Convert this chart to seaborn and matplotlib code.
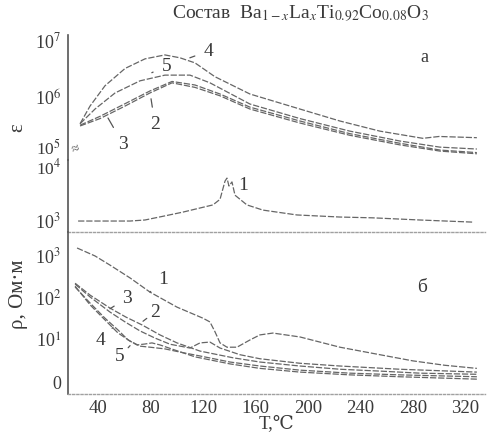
import numpy as np
import pandas as pd
import matplotlib
matplotlib.use("Agg")
import matplotlib.pyplot as plt
import seaborn as sns

sns.set_style("white")
plt.rcParams["font.family"] = ["Liberation Serif", "DejaVu Serif", "DejaVu Sans"]
plt.rcParams["mathtext.fontset"] = "stix"

# ---------------- data ----------------
# panel a: permittivity epsilon vs T
T_eps4 = [26.3, 33.9, 45.3, 60.6, 75.8, 91.0, 102.5, 113.9, 129.1, 155.8, 193.9, 224.4, 254.9, 287.6, 300.0, 328.8]
eps4 = [3.5e5, 7.1e5, 1.6e6, 3.2e6, 4.7e6, 5.5e6, 4.9e6, 4.0e6, 2.3e6, 1.15e6, 6.3e5, 3.9e5, 2.6e5, 1.95e5, 2.1e5, 2.0e5]

T_eps5 = [26.3, 37.7, 53.0, 72.0, 91.0, 110.1, 125.3, 155.8, 193.9, 232.0, 270.1, 300.6, 328.8]
eps5 = [3.5e5, 6.3e5, 1.2e6, 1.95e6, 2.45e6, 2.45e6, 1.8e6, 7.7e5, 4.3e5, 2.6e5, 1.75e5, 1.37e5, 1.27e5]

T_eps23 = [26.3, 41.5, 60.6, 79.6, 96.4, 113.9, 133.0, 155.8, 193.9, 232.0, 270.1, 300.6, 328.8]
eps3 = [3.2e5, 4.3e5, 7.1e5, 1.2e6, 1.8e6, 1.5e6, 1.07e6, 6.3e5, 3.6e5, 2.2e5, 1.5e5, 1.17e5, 1.05e5]
eps2 = [3.3e5, 4.7e5, 7.8e5, 1.3e6, 1.9e6, 1.65e6, 1.15e6, 6.8e5, 3.9e5, 2.35e5, 1.6e5, 1.22e5, 1.1e5]

# panel a (lower part): sample 1
T_eps1 = [24.8, 41.5, 64.4, 75.8, 91.0, 104.8, 117.7, 127.6, 133.0, 136.8, 138.3, 139.8, 142.1, 144.4,
          153.5, 165.7, 191.6, 224.4, 249.5, 285.3, 325.7]
eps1 = [955, 955, 955, 1000, 1200, 1420, 1700, 1950, 2500, 5600, 6400, 4500, 5400, 3000,
        1950, 1550, 1250, 1140, 1100, 1000, 910]

# panel b: resistivity rho vs T
T_r1 = [24.0, 37.7, 49.1, 64.4, 79.6, 100.2, 120.0, 125.3, 129.1, 133.0, 138.3, 145.9, 155.8, 163.4,
        173.3, 193.9, 224.4, 254.9, 280.0, 304.4, 328.8]
rho1 = [1460, 950, 580, 290, 135, 60, 33, 27, 16, 8.7, 6.9, 6.9, 10.2, 13.4,
        14.8, 12, 6.9, 4.6, 3.3, 2.6, 2.2]

T_r2 = [22.5, 33.9, 49.1, 60.6, 72.0, 83.4, 94.9, 110.1, 117.7, 125.3, 133.0, 148.2, 163.4, 193.9, 224.4, 270.1, 328.8]
rho2 = [208, 104, 46, 27, 16.6, 11.3, 8.1, 6.6, 8.7, 9.1, 6.6, 4.6, 3.7, 2.9, 2.5, 2.1, 1.8]

T_r3 = [22.5, 33.9, 49.1, 61.3, 73.5, 87.2, 100.2, 117.7, 142.9, 163.4, 193.9, 224.4, 254.9, 285.3, 328.8]
rho3 = [218, 115, 57, 35, 23, 13.4, 8.7, 5.6, 3.9, 3.1, 2.5, 2.1, 1.9, 1.7, 1.6]

T_r4 = [22.5, 33.9, 45.3, 55.2, 64.4, 72.0, 79.6, 91.0, 102.5, 117.7, 140.6, 163.4, 193.9, 232.0, 270.1, 328.8]
rho4 = [186, 68, 30, 14.9, 9.6, 7.3, 6.9, 6.3, 5.3, 4.3, 3.1, 2.5, 2.0, 1.7, 1.55, 1.4]

T_r5 = [22.5, 33.9, 45.3, 55.2, 62.9, 69.7, 75.8, 81.1, 87.2, 98.7, 113.9, 140.6, 163.4, 193.9, 232.0, 270.1, 328.8]
rho5 = [178, 75, 33, 17.5, 10.2, 7.8, 8.2, 8.7, 7.8, 5.9, 4.1, 2.8, 2.2, 1.8, 1.55, 1.4, 1.23]

x_ticks = [40, 80, 120, 160, 200, 240, 280, 320]
eps_ticks = [1e5, 1e6, 1e7]
eps_tick_labels = [r"10$^5$", r"10$^6$", r"10$^7$"]
eps1_ticks = [1e3, 1e4]
eps1_tick_labels = [r"10$^3$", r"10$^4$"]
rho_ticks = [1, 10, 100, 1000]
rho_tick_labels = ["0", r"10$^1$", r"10$^2$", r"10$^3$"]

# ---------------- figure ----------------
W, H = 490, 438
fig = plt.figure(figsize=(W / 100, H / 100), dpi=100)
fig.patch.set_facecolor("white")

XL, XR = 68, 485


def box(ytop, ybot):
    return [XL / W, 1 - ybot / H, (XR - XL) / W, (ybot - ytop) / H]


ax_top = fig.add_axes(box(35, 160))
ax_mid = fig.add_axes(box(160, 232))
ax_bot = fig.add_axes(box(232, 394))

line_col = "#666666"
ls = (0, (5, 1.5))
lw = 0.9
txt_col = "#3a3a3a"


def draw(ax, T, v, **kw):
    df = pd.DataFrame({"T": T, "v": v})
    sns.lineplot(data=df, x="T", y="v", ax=ax, sort=False, estimator=None,
                 color=kw.pop("color", line_col), linewidth=kw.pop("lw", lw),
                 linestyle=kw.pop("ls", ls), **kw)


for T, v in [(T_eps4, eps4), (T_eps5, eps5), (T_eps23, eps3), (T_eps23, eps2)]:
    draw(ax_top, T, v)
draw(ax_mid, T_eps1, eps1)
for T, v in [(T_r1, rho1), (T_r2, rho2), (T_r3, rho3), (T_r4, rho4), (T_r5, rho5)]:
    draw(ax_bot, T, v)

xlim = (17.1, 335)
for ax in (ax_top, ax_mid, ax_bot):
    ax.set_xlim(*xlim)
    ax.set_yscale("log")
    ax.set_facecolor("none")
    ax.set_xlabel("")
    ax.set_ylabel("")
    ax.minorticks_off()
    for s in ("top", "right", "bottom"):
        ax.spines[s].set_visible(False)
    ax.spines["left"].set_color("#555555")
    ax.spines["left"].set_linewidth(1.2)
    ax.tick_params(axis="y", length=0, pad=5, labelsize=13, colors=txt_col)

ax_top.set_ylim(10 ** 4.913, 10 ** 7.087)
ax_mid.set_ylim(10 ** 2.769, 10 ** 4.154)
ax_bot.set_ylim(10 ** -0.258, 10 ** 3.539)

ax_top.set_yticks(eps_ticks, eps_tick_labels)
ax_mid.set_yticks(eps1_ticks, eps1_tick_labels)
ax_bot.set_yticks(rho_ticks, rho_tick_labels)
# the two labels at the axis break sit tight together, as in the reference
lab5 = ax_top.get_yticklabels()[0]
lab5.set_va("baseline")
lab5.set_fontsize(12.5)
lab4 = ax_mid.get_yticklabels()[1]
lab4.set_va("center")
lab4.set_fontsize(12.5)

for ax in (ax_top, ax_mid):
    ax.set_xticks([])
for ax in (ax_mid, ax_bot):
    ax.spines["bottom"].set_visible(True)
    ax.spines["bottom"].set_linestyle((0, (1.5, 1.5)))
    ax.spines["bottom"].set_color("#a0a0a0")
    ax.spines["bottom"].set_linewidth(1.0)

ax_bot.set_xticks(x_ticks)
ax_bot.tick_params(axis="x", direction="in", length=3, color="#a0a0a0", pad=4,
                   labelsize=13.5, labelcolor=txt_col)
ax_bot.set_xlabel("T,\u2103", fontsize=13.5, color=txt_col, labelpad=-1)

# axis titles
fig.text(18 / W, 1 - 128 / H, "ε", rotation=90, fontsize=15, ha="center", va="center", color=txt_col)
fig.text(18 / W, 1 - 294 / H, "ρ, Ом·м", rotation=90, fontsize=15, ha="center", va="center", color=txt_col)

# title
fig.text(300 / W, 1 - 14 / H, r"Состав  Ba$_{1-x}$La$_x$Ti$_{0.92}$Co$_{0.08}$O$_3$",
         fontsize=14, ha="center", va="center", color=txt_col)

# break marker
fig.text(76 / W, 1 - 149 / H, "≈", fontsize=10, ha="center", va="center", color="#555555", rotation=20)

# panel letters
ax_top.text(289, 10 ** 6.7, "a", fontsize=13, ha="center", va="center", color=txt_col)
ax_bot.text(287, 10 ** 2.23, "б", fontsize=14, ha="center", va="center", color=txt_col)

lab = dict(fontsize=14, color=txt_col, ha="center", va="center")
arr = dict(arrowstyle="-", color="#555555", lw=0.9, shrinkA=4, shrinkB=0)


def tag(ax, text, xy_text, xy_curve):
    ax.annotate(text, xy=xy_curve, xytext=xy_text, arrowprops=arr, **lab)


tag(ax_top, "4", (124, 6.4e6), (110, 4.9e6))
tag(ax_top, "5", (92, 3.5e6), (81, 2.7e6))
tag(ax_top, "3", (59, 1.55e5), (47.6, 4.4e5))
tag(ax_top, "2", (83.4, 3.4e5), (80.4, 9.5e5))
ax_mid.text(151, 4700, "1", **lab)
tag(ax_bot, "1", (89.5, 260), (79.6, 135))
tag(ax_bot, "3", (62.1, 98), (49.1, 55))
tag(ax_bot, "2", (83.4, 46), (74.3, 28))
tag(ax_bot, "4", (41.5, 10), (51.4, 20))
tag(ax_bot, "5", (56.8, 4.1), (64.4, 7.5))

fig.savefig("out.png", dpi=100, facecolor="white")
